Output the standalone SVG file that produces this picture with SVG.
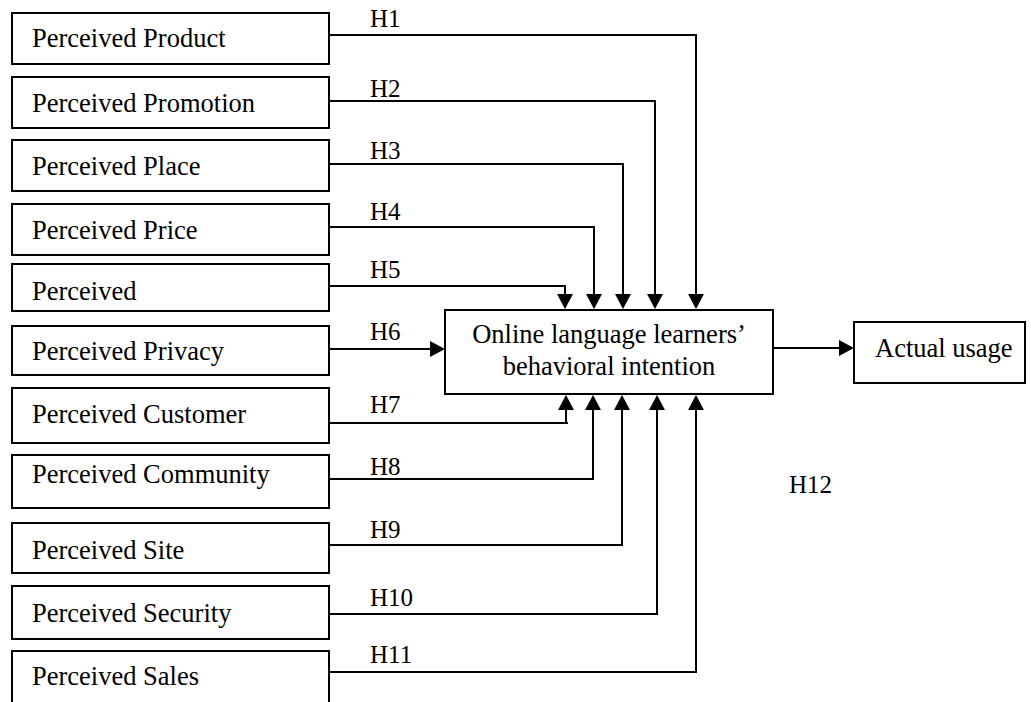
<svg xmlns="http://www.w3.org/2000/svg" width="1031" height="702" viewBox="0 0 1031 702">
<style>
.box{fill:#fff;stroke:#000;stroke-width:2}
.t{font-family:"Liberation Serif","Times New Roman",serif;font-size:26.5px;fill:#000}
.h{font-family:"Liberation Serif","Times New Roman",serif;font-size:25px;fill:#000}
.c{text-anchor:middle}
.ln{fill:none;stroke:#000;stroke-width:2}
.ah{fill:#000}
</style>
<rect width="1031" height="702" fill="#fff"/>
<g id="nodes">
<g id="n1"><rect class="box" x="12" y="13" width="317" height="51"/><text class="t" x="32" y="47">Perceived Product</text></g>
<g id="n2"><rect class="box" x="12" y="77" width="317" height="51"/><text class="t" x="32" y="112">Perceived Promotion</text></g>
<g id="n3"><rect class="box" x="12" y="140" width="317" height="51"/><text class="t" x="32" y="175">Perceived Place</text></g>
<g id="n4"><rect class="box" x="12" y="204" width="317" height="51"/><text class="t" x="32" y="239">Perceived Price</text></g>
<g id="n5"><rect class="box" x="12" y="264" width="317" height="47"/><text class="t" x="32" y="300">Perceived</text></g>
<g id="n6"><rect class="box" x="12" y="326" width="317" height="49"/><text class="t" x="32" y="360">Perceived Privacy</text></g>
<g id="n7"><rect class="box" x="12" y="388" width="317" height="55"/><text class="t" x="32" y="423">Perceived Customer</text></g>
<g id="n8"><rect class="box" x="12" y="455" width="317" height="53"/><text class="t" x="32" y="483">Perceived Community</text></g>
<g id="n9"><rect class="box" x="12" y="523" width="317" height="50"/><text class="t" x="32" y="559">Perceived Site</text></g>
<g id="n10"><rect class="box" x="12" y="586" width="317" height="53"/><text class="t" x="32" y="622">Perceived Security</text></g>
<g id="n11"><rect class="box" x="12" y="651" width="317" height="62"/><text class="t" x="32" y="685">Perceived Sales</text></g>
<g id="center"><rect class="box" x="445" y="310" width="328" height="84"/><text class="t c" x="609" y="343">Online language learners’</text><text class="t c" x="609" y="375">behavioral intention</text></g>
<g id="usage"><rect class="box" x="854" y="322" width="171" height="61"/><text class="t" x="875" y="357">Actual usage</text></g>
</g>
<g id="connectors">
<path class="ln" d="M329,35 H696 V295"/><path class="ah" d="M688,294 L704,294 L696,309 Z"/>
<path class="ln" d="M329,101 H655 V295"/><path class="ah" d="M647,294 L663,294 L655,309 Z"/>
<path class="ln" d="M329,164 H623 V295"/><path class="ah" d="M615,294 L631,294 L623,309 Z"/>
<path class="ln" d="M329,227 H594 V295"/><path class="ah" d="M586,294 L602,294 L594,309 Z"/>
<path class="ln" d="M329,286 H565 V295"/><path class="ah" d="M557,294 L573,294 L565,309 Z"/>
<path class="ln" d="M329,349 H431"/><path class="ah" d="M430,341 L430,357 L445,349 Z"/>
<path class="ln" d="M329,423 H568 M566,423 V409"/><path class="ah" d="M558,410 L574,410 L566,395 Z"/>
<path class="ln" d="M329,479 H593 V409"/><path class="ah" d="M585,410 L601,410 L593,395 Z"/>
<path class="ln" d="M329,545 H622 V409"/><path class="ah" d="M614,410 L630,410 L622,395 Z"/>
<path class="ln" d="M329,614 H657 V409"/><path class="ah" d="M649,410 L665,410 L657,395 Z"/>
<path class="ln" d="M329,672 H696 V409"/><path class="ah" d="M688,410 L704,410 L696,395 Z"/>
<path class="ln" d="M773,348 H840"/><path class="ah" d="M839,340 L839,356 L854,348 Z"/>
</g>
<g id="labels">
<text class="h" x="370" y="27">H1</text>
<text class="h" x="370" y="97">H2</text>
<text class="h" x="370" y="159">H3</text>
<text class="h" x="370" y="220">H4</text>
<text class="h" x="370" y="278">H5</text>
<text class="h" x="370" y="340">H6</text>
<text class="h" x="370" y="413">H7</text>
<text class="h" x="370" y="475">H8</text>
<text class="h" x="370" y="538">H9</text>
<text class="h" x="370" y="606">H10</text>
<text class="h" x="370" y="663">H11</text>
<text class="h" x="789" y="493">H12</text>
</g>
</svg>
